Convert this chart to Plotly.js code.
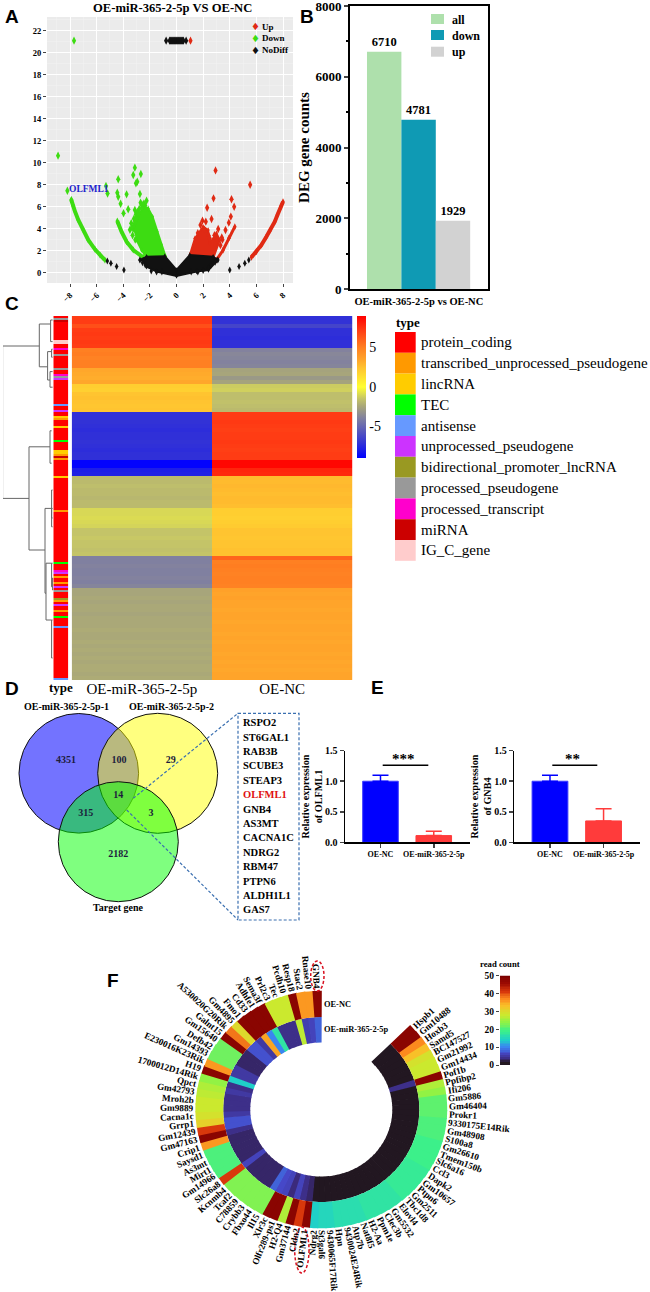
<!DOCTYPE html>
<html><head><meta charset="utf-8">
<script src="https://cdn.plot.ly/plotly-3.0.1.min.js"></script>
<style>html,body{margin:0;padding:0;background:#fff}</style></head>
<body><div id="chart" style="width:650px;height:1292px"></div>
<script>
// ---------- Panel A: volcano
const downX=[-7.7,-8.9,-8.2,-7.9,-4.38,-4.45,-4.38,-4.2,-3.75,-3.98,-3.63,-3.25,-3.13,-2.68,-2.95,-3.05,-2.75,-2.7,-2.25,-3.13,-5.3,-5.18,-3.4,-3.2,-3.05,-2.9,-2.6,-2.35,-3.5,-3.3,-3.1,-3.2,-3.1,-3.35,-3.0,-2.95,-2.8,-2.6,-2.45];
const downY=[21.1,10.64,7.45,6.6,8.5,7.27,6.9,6.27,7.12,5.4,5.76,8.88,9.55,8.97,8.27,8.12,7.15,6.36,6.55,5.7,7.88,7.2,4.5,4.9,5.3,5.5,6.2,6.1,3.9,3.4,3.0,4.3,4.6,4.1,5.0,5.5,5.8,5.9,6.3];
const downArcFarX=[-7.9,-7.8,-7.65,-7.38,-7,-6.63,-6.13,-5.75,-5.38];
const downArcFarY=[6.6,6.15,5.64,4.79,3.88,2.97,2.12,1.6,1.15];
const downArcMidX=[-4.45,-4.38,-4.13,-3.75,-3.25,-2.5];
const downArcMidY=[4.7,4.48,3.73,2.82,2.06,1.4];
const downMassX=[-3.25,-2.88,-2.5,-2.13,-1.8,-1.45,-1.13,-0.83,-2.25,-2.63,-3.0];
const downMassY=[3.88,5.09,6.0,5.85,5.09,3.73,2.52,1.5,1.4,2.06,2.97];
const upX=[1.05,2.93,5.53,2.78,2.3,4.13,4.33,4.08,3.93,2.63,1.95,2.2,1.8,3.13,3.68,3.4,2.85,1.6,2.1,2.4,2.5,2.9,3.3,3.45];
const upY=[21.1,9.3,8.0,6.76,5.9,6.67,6.0,5.1,4.55,4.88,4.73,4.64,4.33,3.97,3.88,3.2,3.4,3.6,3.9,3.4,3.1,2.6,2.5,3.0];
const upArcFarX=[5.63,6,6.38,6.75,7.05,7.38,7.58,7.83,8];
const upArcFarY=[1.4,1.9,2.52,3.27,3.88,4.64,5.24,6,6.45];
const upArcMidX=[4.38,3.93,3.5,3];
const upArcMidY=[4.18,3.12,2.06,1.15];
const upMassX=[1,1.38,2,2.38,2.5,3,3.25,2.75];
const upMassY=[1.6,3.12,4.18,3.88,2.67,3.58,2.97,1.3];
const flatX=[-5.2,-4.93,-4.5,-3.95,-2.75,-2.55,-2.35,4,4.7,5.13,5.43,3.1,2.9,2.6,2.4,-1.9,-1.5,-1.1,1.1,1.6,2.0];
const flatY=[1.06,0.85,0.55,0.24,1.15,0.9,0.7,0.24,0.55,0.85,1.15,1.15,0.95,0.7,0.45,0.15,0.05,0.05,0.05,0.05,0.2];
const flatMassX=[-2.75,-2.25,-0.88,0,1,2.75,3.1,2.4,1.5,0,-1.5,-2.25];
const flatMassY=[1.15,1.45,1.5,0.24,1.6,1.45,1.15,0.24,0.1,-0.3,0.1,0.55];
const topRowX=[-0.78,-0.52,-0.45,-0.38,-0.3,-0.22,-0.15,-0.08,0,0.08,0.15,0.22,0.3,0.38,0.45,0.52,0.72];
const topRowY=[21.1,21.1,21.1,21.1,21.1,21.1,21.1,21.1,21.1,21.1,21.1,21.1,21.1,21.1,21.1,21.1,21.1];

// ---------- Panel B
const degCats=['all','down','up'];
const degCounts=[6710,4781,1929];
const degColors=['#aee0ac','#0f9ab4','#d2d2d2'];

// ---------- Panel C
const heatCols=['OE-miR-365-2-5p','OE-NC'];
const heatMir=[7.2,7.2,6.6,7.2,7.3,7.2,7.3,7.2,5.0,5.1,4.9,5.0,5.0,3.4,3.3,3.2,3.4,2.0,1.9,2.4,2.5,2.4,2.3,2.4,
 -7.2,-7.2,-7.1,-7.2,-7.3,-7.2,-7.2,-7.1,-7.2,-7.3,-7.2,-7.2,-8.9,-8.9,-7.9,-7.8,
 -1.8,-1.8,-1.7,-1.8,-1.8,-1.9,-1.8,-1.8,-1.0,-1.0,-0.9,-1.0,-1.1,-1.5,-1.5,-1.4,-1.5,-1.5,-1.6,-1.5,
 -4.0,-4.0,-3.9,-4.0,-4.0,-3.9,-4.0,-3.8,-2.5,-2.5,-2.4,-2.5,-2.4,-2.4,-2.5,-2.4,-2.4,-2.4,-2.3,-2.4,-2.4,-2.3,-2.4,-2.3,-2.4,-2.3,-2.4,-2.3,-2.3,-2.4,-2.3];
const heatNc=[-7.2,-7.1,-6.4,-7.2,-7.2,-7.3,-7.2,-7.2,-3.9,-3.7,-3.8,-3.9,-3.8,-2.6,-2.5,-3.0,-2.6,-1.3,-1.2,-1.7,-1.7,-1.6,-1.7,-1.8,
 7.2,7.2,7.3,7.2,7.1,7.2,7.2,7.3,7.2,7.1,7.2,7.2,8.8,8.8,7.9,7.8,
 2.7,2.7,2.8,2.7,2.6,2.7,2.7,2.6,2.0,2.0,1.9,2.0,2.1,2.4,2.4,2.3,2.4,2.4,2.5,2.5,
 5.9,5.0,5.1,5.0,4.9,5.0,5.0,4.9,3.6,3.5,3.6,3.5,3.5,3.4,3.5,3.5,3.4,3.5,3.5,3.4,3.5,3.4,3.5,3.5,3.4,3.5,3.4,3.5,3.4,3.5,3.5];
const typeNames=['protein_coding','transcribed_unprocessed_pseudogene','lincRNA','TEC','antisense','unprocessed_pseudogene','bidirectional_promoter_lncRNA','processed_pseudogene','processed_transcript','miRNA','IG_C_gene'];
const typeColors=['#ff0000','#ff9900','#ffcc00','#00ff00','#6699ff','#cc33ff','#999922','#999999','#ff00cc','#cc0000','#ffcccc'];
const typeRowCount=182;
const stripeRows=[1,2,12,13,16,19,26,29,30,31,44,47,50,51,55,62,67,68,69,70,71,80,97,123,127,128,130,133,135,137,141,142,144,147,150,155,181];
const stripeTypes=[7,9,10,10,8,7,7,8,7,5,4,5,2,1,2,3,2,2,1,9,1,2,1,3,8,5,1,1,5,7,6,1,5,1,3,4,4];
// dendrogram merges: height, the two joined rows, the heights of the two children
const mergeH=[50.7,14,24.3,5.7,2.7,1.7,3.3,8.3,7.3,3.3,1.7,1.7,1.7,1.7,0.7];
const mergeA=[7,1.5,32.2,8.4,0.5,7.8,13.4,47.6,61.3,28.2,43,61.3,75.5,47.6,65];
const mergeB=[45.1,12.2,58,15.5,5.9,9.8,17.3,68.8,75.5,36.3,52.2,67.2,85,50,68];
const childA=[14,2.7,3.3,1.7,0.7,0.7,0.7,1.7,1.7,1.7,0.7,0.7,0.7,0.7,0.2];
const childB=[24.3,5.7,8.3,3.3,0.7,0.7,0.7,7.3,1.7,1.7,0.7,0.7,0.7,0.7,0.2];

// ---------- Panel D
const vennX=[78.8,157.7,118.3];
const vennY=[773.3,773.3,841.7];
const vennR=[59.8,60,60];
const vennColors=['rgba(0,0,255,0.55)','rgba(255,255,0,0.5)','rgba(0,255,0,0.5)'];
const vennCounts=['4351','100','29','14','315','3','2182'];
const vennCountX=[66,119,170.7,118.3,85.7,151,118.3];
const vennCountY=[760,760,760,795,813,813,854];
const vennSets=['OE-miR-365-2-5p-1','OE-miR-365-2-5p-2','Target gene'];
const geneList=['RSPO2','ST6GAL1','RAB3B','SCUBE3','STEAP3','OLFML1','GNB4','AS3MT','CACNA1C','NDRG2','RBM47','PTPN6','ALDH1L1','GAS7'];

// ---------- Panel E
const qpcrCats=['OE-NC','OE-miR-365-2-5p'];
const olfml1=[1.0,0.11];
const olfml1Err=[0.10,0.07];
const gnb4=[1.0,0.35];
const gnb4Err=[0.10,0.20];

// ---------- Panel F
const circGenes=['Hspb1','Gm10488','Hoxb3','Samd5','BC147527','Gm21992','Gm14434','Pof1b','Ppfibp2','Ifi206','Gm5886','Gm46404','Prokr1','9330175E14Rik','Gm48908','S100a8','Gm26610','Tmem150b','Slc6a16','Ccl3','Dapk2','Gm10657','Ptpn6','Gm2511','Tbc1d8','Elovl4','Gm5532','Clec3b','Ppm1e','H2-Aa','Nat8f5','Atp7b','9430024E24Rik','Hpn','9430065F17Rik','St3gal6','Ndrg2','OLFML1','Cldn2','Gm37144','H2-Q4','Olfr289-ps1','Xlr3c','Il15','Fbxo44','Crybb3','C78859','Tcaf2','Kcnmb4','Slc26a8','Gm14966','Mirt1','As3mt','Saysd1','Crip1','Gm47163','Gm12439','Grrp1','Cacna1c','Gm9889','Mroh2b','Gm42793','Qpct','1700012D14Rik','H19','E230016K23Rik','Gm14393','Defb42','Gm15640','Galnt15','A530020G20Rik','Gm4895','Fmo1','Cd33','Adhfe1','Sema3f','Prl2c3','Tec','Pcdh10','Resp18','Stac2','Rnase10','GNB4'];
const countNc=[48,48,37,33,29,28,28,48,26,24,21,21,21,20,20,20,19,19,19,19,18,18,18,18,18,17,17,17,17,17,16,16,16,16,15,15,14,48,41,48,26,48,48,23,23,23,23,23,23,41,20,20,20,20,36,48,41,31,29,28,28,27,26,24,48,36,22,22,22,48,38,30,48,48,48,48,28,28,28,48,36,36,48];
const countMir=[0.5,0.5,0.5,0.5,0.5,0.5,0.5,4,0.5,0.5,0.5,0.5,0.5,0.5,0.5,0.5,0.5,0.5,0.5,0.5,0.5,0.5,0.5,0.5,0.5,0.5,0.5,0.5,0.5,0.5,0.5,0.5,0.5,0.5,0.5,0.5,0.5,3,4,6,3.5,6,6.5,8,3,3,3,3,3,6,3,3,3,3,3,4,7,7,5,4,4,4,5,4,14,5,5,3,3,3,7,7,5,35,10,17,4,4,4,27,5.5,6,8];
const readCountScale=[0,1,2,3,4,5,6,7,8,9,10,11,12,13,14,15,16,17,18,19,20,21,22,23,24,25,26,27,28,29,30,31,32,33,34,35,36,37,38,39,40,41,42,43,44,45,46,47,48,49,50];

// ---------- helpers: page pixels to paper fractions
const W=650,H=1292,SERIF='"Liberation Serif", serif';
const X=p=>p/W, Y=p=>1-p/H;
const domX=(a,b)=>[X(a),X(b)], domY=(t,b)=>[Y(b),Y(t)];
const bold=(size,color)=>({family:SERIF,size:size,color:color||'#000',weight:700});
const plain=(size,color)=>({family:SERIF,size:size,color:color||'#000'});
const note=(x,y,text,font,extra)=>Object.assign({xref:'paper',yref:'paper',x:X(x),y:Y(y),text:text,font:font,showarrow:false,xanchor:'center',yanchor:'middle',borderpad:0},extra||{});
const leftNote=(x,y,text,font)=>note(x,y,text,font,{xanchor:'left'});

const readScale=[[0,'#221722'],[0.025,'#231820'],[0.07,'#3b2a7c'],[0.13,'#4648c8'],[0.2,'#3a86f0'],[0.28,'#1fd0c8'],[0.38,'#3cf08a'],[0.48,'#92f244'],[0.56,'#cbe92e'],[0.66,'#f8c028'],[0.74,'#fc8a1e'],[0.82,'#d8380c'],[0.92,'#9a0a02'],[1,'#7a0000']];
const heatScale=[[0,'#0000ff'],[0.1,'#3030d8'],[0.278,'#8080a0'],[0.367,'#aaa878'],[0.417,'#c4c468'],[0.5,'#ffff33'],[0.633,'#ffc430'],[0.694,'#ffa42a'],[0.778,'#ff8022'],[0.9,'#ff3c14'],[1,'#ff0000']];

const data=[];
// A
const A={xaxis:'x',yaxis:'y',hoverinfo:'skip',showlegend:false,cliponaxis:false};
const dia=(c,s)=>({symbol:'diamond-tall',color:c,size:s||5});
const GREEN='#3ddc12',RED='#e02a14';
const mass=(x,y,c)=>data.push(Object.assign({},A,{type:'scatter',x:x,y:y,mode:'lines+markers',fill:'toself',fillcolor:c,line:{color:c,width:2},marker:dia(c,4)}));
const arc=(x,y,c,w)=>data.push(Object.assign({},A,{type:'scatter',x:x,y:y,mode:'lines+markers',line:{color:c,width:w},marker:dia(c,5)}));
mass(downMassX,downMassY,GREEN);
arc(downArcFarX,downArcFarY,GREEN,4);
arc(downArcMidX,downArcMidY,GREEN,4);
data.push(Object.assign({},A,{type:'scatter',x:downX,y:downY,mode:'markers',marker:dia(GREEN,6)}));
mass(upMassX,upMassY,RED);
arc(upArcFarX,upArcFarY,RED,4);
arc(upArcMidX,upArcMidY,RED,3);
data.push(Object.assign({},A,{type:'scatter',x:upX,y:upY,mode:'markers',marker:dia(RED,6)}));
mass(flatMassX,flatMassY,'#111111');
data.push(Object.assign({},A,{type:'scatter',x:flatX,y:flatY,mode:'markers',marker:dia('#111',5)}));
data.push(Object.assign({},A,{type:'scatter',x:topRowX,y:topRowY,mode:'markers',marker:dia('#111',6)}));
// B
data.push({type:'bar',xaxis:'x2',yaxis:'y2',x:[0,1,2],y:degCounts,width:1,marker:{color:degColors,line:{width:0}},text:degCounts.map(String),textposition:'outside',textangle:0,textfont:bold(12.5),cliponaxis:false,hoverinfo:'skip',showlegend:false});
// C main heatmap
const heatZ=heatMir.map((v,i)=>[v,heatNc[i]]);
data.push({type:'heatmap',xaxis:'x3',yaxis:'y3',x:heatCols,z:heatZ,zmin:-9,zmax:9,colorscale:heatScale,xgap:0,ygap:0,hoverinfo:'skip',
 colorbar:{x:X(357.3),xanchor:'left',xpad:0,y:Y(316),yanchor:'top',ypad:0,lenmode:'pixels',len:141.7,thicknessmode:'pixels',thickness:9.4,outlinewidth:0,tickvals:[-5,0,5],ticktext:['-5','0','5'],ticklen:0,tickfont:plain(14),ticklabelpad:5}});
// C type strip
const typeZ=[];for(let i=0;i<typeRowCount;i++)typeZ.push([0]);
stripeRows.forEach((r,i)=>{typeZ[r][0]=stripeTypes[i];});
const n=typeColors.length,stepScale=[];
typeColors.forEach((c,i)=>{stepScale.push([i/n,c]);stepScale.push([(i+1)/n,c]);});
data.push({type:'heatmap',xaxis:'x4',yaxis:'y4',x:['type'],z:typeZ,zmin:-0.5,zmax:n-0.5,colorscale:stepScale,showscale:false,hoverinfo:'skip'});
// C dendrogram
const dx=[],dy=[];
mergeH.forEach((h,i)=>{dx.push(childA[i],h,h,childB[i],null);dy.push(mergeA[i],mergeA[i],mergeB[i],mergeB[i],null);});
data.push({type:'scatter',xaxis:'x5',yaxis:'y5',x:dx,y:dy,mode:'lines',line:{color:'#666',width:1},hoverinfo:'skip',showlegend:false});
// D counts
data.push({type:'scatter',xaxis:'x9',yaxis:'y9',x:vennCountX,y:vennCountY,text:vennCounts,mode:'text',textposition:'middle center',textfont:bold(10,'#1c1c3c'),hoverinfo:'skip',showlegend:false});
// E
const errBar=(arr,c)=>({type:'data',symmetric:false,array:arr,arrayminus:[0],color:c,thickness:1.5,width:8});
const qpcr=(xa,ya,vals,errs)=>{
 data.push({type:'bar',xaxis:xa,yaxis:ya,x:[qpcrCats[0]],y:[vals[0]],width:0.668,marker:{color:'#0000ff',line:{color:'#3a3aff',width:1}},error_y:errBar([errs[0]],'#0000ff'),hoverinfo:'skip',showlegend:false});
 data.push({type:'bar',xaxis:xa,yaxis:ya,x:[qpcrCats[1]],y:[vals[1]],width:0.668,marker:{color:'#ff3b3b',line:{color:'#ff3b3b',width:1}},error_y:errBar([errs[1]],'#ff3b3b'),hoverinfo:'skip',showlegend:false});
};
qpcr('x6','y6',olfml1,olfml1Err);
qpcr('x7','y7',gnb4,gnb4Err);
// F rings: the published ring is slightly wider than tall
const CX=321.3,CY=1109.5,ASP=1.06,STEP=315/circGenes.length,START=45;
const rad=d=>d*Math.PI/180;
const polarAngle=t=>{let p=Math.atan2(ASP*Math.sin(rad(t)),Math.cos(rad(t)))*180/Math.PI;while(p<t-90)p+=360;return p;};
const stretch=t=>Math.sqrt(ASP*ASP*Math.sin(rad(t))**2+Math.cos(rad(t))**2);
const thetas=[],widths=[],mids=[],fs=[];
circGenes.forEach((g,i)=>{const t0=START+i*STEP,t1=t0+STEP,a=polarAngle(t0),b=polarAngle(t1);
 thetas.push((a+b)/2);widths.push(b-a+0.5);mids.push((t0+t1)/2);fs.push(stretch((t0+t1)/2));});
const R0=67,R1=92.5,R2=118.8;
const ring=(vals,a,b,name)=>({type:'barpolar',subplot:'polar',name:name,theta:thetas,width:widths,base:fs.map(f=>a*f),r:fs.map(f=>(b-a)*f),marker:{color:vals,cmin:0,cmax:50,colorscale:readScale,line:{width:0}},hoverinfo:'skip',showlegend:false});
data.push(ring(countMir,R0,R1,'OE-miR-365-2-5p'));
data.push(ring(countNc,R1,R2,'OE-NC'));
// F read-count scale
data.push({type:'heatmap',xaxis:'x8',yaxis:'y8',x:[0],y:readCountScale,z:readCountScale.map(v=>[v]),zmin:0,zmax:50,colorscale:readScale,showscale:false,hoverinfo:'skip'});

// ---------- annotations
const ann=[];
[['A',12,16],['B',307,16],['C',12,303],['D',12,688],['E',377,687],['F',113,980]].forEach(l=>ann.push(note(l[1],l[2],l[0],{family:'"Liberation Sans", sans-serif',size:19,weight:700,color:'#000'})));
ann.push(note(173,8,'OE-miR-365-2-5p VS OE-NC',bold(12.6)));
[['Up',RED,26.7],['Down',GREEN,38],['NoDiff','#111',50]].forEach(l=>{
 ann.push(note(255.7,l[2],'\u2666',{family:'"DejaVu Sans"',size:10,color:l[1]}));
 ann.push(leftNote(260.7,l[2],l[0],bold(9)));
});
ann.push(leftNote(68.3,189,'OLFML1',bold(9.5,'#2222cc')));
['all','down','up'].forEach((t,i)=>ann.push(leftNote(451,[19.7,35.7,52][i],t,bold(12))));
// C legend
ann.push(leftNote(395,322.3,'type',bold(13)));
typeNames.forEach((t,i)=>ann.push(leftNote(420,342.4+i*20.8,t,plain(15))));
// D texts
ann.push(note(66,706,vennSets[0],bold(10)));
ann.push(note(171.7,706,vennSets[1],bold(10)));
ann.push(note(118.3,907,vennSets[2],bold(10)));
geneList.forEach((g,i)=>ann.push(leftNote(242,722.7+i*14.4,g,bold(10.5,g==='OLFML1'?'#e01010':'#000'))));
// E significance
ann.push(note(404,759,'***',bold(15)));
ann.push(note(572.7,759,'**',bold(15)));
// F texts
ann.push(leftNote(323.3,1004,'OE-NC',bold(8.4)));
ann.push(leftNote(323.3,1029.3,'OE-miR-365-2-5p',bold(8.4)));
ann.push(note(500,964,'read count',bold(8.7)));
const cvs=document.createElement('canvas').getContext('2d');
cvs.font='bold 9.2px "Liberation Serif"';
circGenes.forEach((g,i)=>{
 const t=mids[i],L=cvs.measureText(g).width,s=Math.sin(rad(t)),c=Math.cos(rad(t));
 const x=CX+s*(R2*ASP+2+L/2),y=CY-c*(R2+2+L/2);
 ann.push(note(x,y,g,bold(9.2),{textangle:t<180?t-90:t-270}));
});

// ---------- shapes
const shp=[];
const pBox=(a,b,c,d,o)=>Object.assign({type:'rect',xref:'paper',yref:'paper',x0:X(a),x1:X(b),y0:Y(c),y1:Y(d),line:{width:0}},o||{});
shp.push({type:'rect',xref:'x domain',yref:'y domain',x0:0,x1:1,y0:0,y1:1,fillcolor:'#ebebeb',line:{width:0},layer:'below'});
degColors.forEach((c,i)=>shp.push(pBox(431,444,[14,30,46.7][i],[24,40,56.7][i],{fillcolor:c})));
typeColors.forEach((c,i)=>shp.push(pBox(395,415.7,332+i*20.8,332+(i+1)*20.8,{fillcolor:c})));
vennX.forEach((x,i)=>shp.push({type:'circle',xref:'x9',yref:'y9',x0:x-vennR[i],x1:x+vennR[i],y0:vennY[i]-vennR[i],y1:vennY[i]+vennR[i],fillcolor:vennColors[i],line:{color:'#111',width:1},layer:'below'}));
const DASH={color:'#3a6fb0',width:1.2,dash:'3px,2px'};
const dashLine=(a,b,c,d)=>({type:'line',xref:'paper',yref:'paper',x0:X(a),y0:Y(b),x1:X(c),y1:Y(d),line:DASH});
shp.push(pBox(238,299,713.3,920,{line:DASH}));
shp.push(dashLine(133.3,798.3,238,713.3));
shp.push(dashLine(126.7,810,238,920));
const blackLine=(a,b,c)=>({type:'line',xref:'paper',yref:'paper',x0:X(a),y0:Y(c),x1:X(b),y1:Y(c),line:{color:'#000',width:1.5}});
shp.push(blackLine(382.7,428.3,765.3));
shp.push(blackLine(552.3,597.3,765.3));
const redEll=(a,b,c,d)=>({type:'circle',xref:'paper',yref:'paper',x0:X(a),x1:X(b),y0:Y(c),y1:Y(d),line:{color:'#d81020',width:1.5,dash:'3px,2px'}});
shp.push(redEll(310.7,324,961,991));
shp.push(redEll(294.7,309,1227,1273));

// ---------- layout
const noAxis={visible:false,fixedrange:true,zeroline:false,showgrid:false};
const qpcrY=(anchor,left,title)=>({domain:domY(750.7,842.3),anchor:anchor,range:[0,1.5],tickvals:[0,0.5,1,1.5],ticktext:['0.0','0.5','1.0','1.5'],showline:true,linecolor:'#000',linewidth:1.5,ticks:'outside',ticklen:4,tickwidth:1.5,tickfont:bold(10),showgrid:false,zeroline:false,title:{text:title,font:bold(10.2),standoff:0}});
const qpcrX=(anchor,l,r)=>({domain:domX(l,r),anchor:anchor,type:'category',categoryorder:'array',categoryarray:qpcrCats,range:[-0.666,1.68],showline:true,linecolor:'#000',linewidth:1.5,ticks:'outside',ticklen:4,tickwidth:1.5,tickfont:bold(8),showgrid:false,zeroline:false});
const layout={
 width:W,height:H,margin:{l:0,r:0,t:0,b:0,pad:0},paper_bgcolor:'#fff',plot_bgcolor:'rgba(0,0,0,0)',barmode:'overlay',showlegend:false,
 xaxis:{domain:domX(47,293),range:[-9.73,8.75],anchor:'y',tickvals:[-8,-6,-4,-2,0,2,4,6,8],tickangle:-45,ticks:'outside',ticklen:3,tickfont:bold(8.5),gridcolor:'#fff',gridwidth:1,zeroline:false,showline:false,minor:{dtick:1,showgrid:true,gridcolor:'#f4f4f4',gridwidth:0.5}},
 yaxis:{domain:domY(17,283),range:[-0.94,23.25],anchor:'x',tickvals:[0,2,4,6,8,10,12,14,16,18,20,22],ticks:'outside',ticklen:3,tickfont:bold(8.5),gridcolor:'#fff',gridwidth:1,zeroline:false,showline:false,minor:{dtick:1,showgrid:true,gridcolor:'#f4f4f4',gridwidth:0.5}},
 xaxis2:{domain:domX(350,487.7),range:[-0.994,3.009],anchor:'y2',showline:true,mirror:true,linecolor:'#000',linewidth:2,showticklabels:false,ticks:'',showgrid:false,zeroline:false,title:{text:'OE-miR-365-2-5p vs OE-NC',font:bold(10.5),standoff:8}},
 yaxis2:{domain:domY(6,289),range:[0,8000],anchor:'x2',showline:true,mirror:true,linecolor:'#000',linewidth:2,tickvals:[0,2000,4000,6000,8000],ticks:'outside',ticklen:4,tickwidth:2,tickfont:bold(13),ticklabeloverflow:'allow',showgrid:false,zeroline:false,minor:{dtick:1000,ticks:'outside',ticklen:2,tickwidth:2,tickcolor:'#000'},title:{text:'DEG gene counts',font:bold(15),standoff:2}},
 xaxis3:{domain:domX(71.7,352.3),anchor:'y3',type:'category',ticks:'',tickfont:plain(15),showgrid:false,zeroline:false,showline:false,ticklabelstandoff:-2},
 yaxis3:{domain:domY(316,680),anchor:'x3',range:[90.5,-0.5],visible:false,showgrid:false,zeroline:false},
 xaxis4:{domain:domX(53.3,68.3),anchor:'y4',type:'category',ticks:'',tickfont:bold(13),showgrid:false,zeroline:false,showline:false,ticklabelstandoff:-2},
 yaxis4:{domain:domY(316,680),anchor:'x4',range:[181.5,-0.5],visible:false},
 xaxis5:Object.assign({domain:domX(3,53.3),anchor:'y5',range:[50.3,0]},noAxis),
 yaxis5:Object.assign({domain:domY(316,680),anchor:'x5',range:[90.5,-0.5]},noAxis),
 xaxis6:qpcrX('y6',345,470),
 yaxis6:qpcrY('x6',345,'Relative expression<br>of OLFML1'),
 xaxis7:qpcrX('y7',514.3,640),
 yaxis7:qpcrY('x7',514.3,'Relative expression<br>of GNB4'),
 xaxis8:{domain:domX(500,510),anchor:'y8',visible:false,range:[-0.5,0.5]},
 yaxis8:{domain:domY(975.7,1065),anchor:'x8',range:[0,50],tickvals:[0,10,20,30,40,50],ticks:'outside',ticklen:3,tickfont:bold(9.5),showgrid:false,zeroline:false,showline:false},
 xaxis9:Object.assign({domain:domX(0,232),anchor:'y9',range:[0,232]},noAxis),
 yaxis9:Object.assign({domain:domY(696,916),anchor:'x9',range:[916,696]},noAxis),
 polar:{domain:{x:domX(CX-135,CX+135),y:domY(CY-135,CY+135)},bgcolor:'rgba(0,0,0,0)',barmode:'overlay',
  radialaxis:{visible:false,range:[0,135]},angularaxis:{visible:false,direction:'clockwise',rotation:90}},
 annotations:ann,shapes:shp
};
Plotly.newPlot('chart',data,layout,{displayModeBar:false,staticPlot:true,responsive:false});
</script></body></html>
